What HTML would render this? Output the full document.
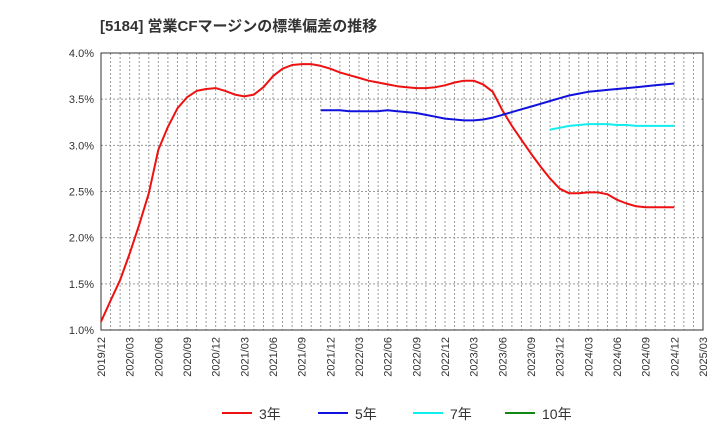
<!DOCTYPE html>
<html><head><meta charset="utf-8">
<style>
body{margin:0;background:#fff;font-family:"Liberation Sans","Noto Sans CJK JP",sans-serif;}
svg text{font-family:"Liberation Sans","Noto Sans CJK JP",sans-serif;}
</style></head>
<body>
<svg id="chart" width="720" height="440" xmlns="http://www.w3.org/2000/svg">
<text x="100" y="31" font-size="15" font-weight="bold" fill="#333">[5184]  営業CFマージンの標準偏差の推移</text>
<g id="grid"></g>
<g id="axes"></g>
<g id="series"></g>
<g id="legend"></g>
</svg>
<script>
const xTickLabels=["2019/12","2020/03","2020/06","2020/09","2020/12","2021/03","2021/06","2021/09","2021/12","2022/03","2022/06","2022/09","2022/12","2023/03","2023/06","2023/09","2023/12","2024/03","2024/06","2024/09","2024/12","2025/03"];
const yTicks=[1.0,1.5,2.0,2.5,3.0,3.5,4.0];
const red=[1.09,1.32,1.54,1.83,2.14,2.48,2.95,3.20,3.40,3.52,3.59,3.61,3.62,3.59,3.55,3.53,3.55,3.63,3.75,3.83,3.87,3.88,3.88,3.86,3.83,3.79,3.76,3.73,3.70,3.68,3.66,3.64,3.63,3.62,3.62,3.63,3.65,3.68,3.70,3.70,3.66,3.58,3.38,3.21,3.06,2.91,2.77,2.64,2.53,2.48,2.48,2.49,2.49,2.47,2.41,2.37,2.34,2.33,2.33,2.33,2.33];
const redStart=0;
const blue=[3.38,3.38,3.38,3.37,3.37,3.37,3.37,3.38,3.37,3.36,3.35,3.33,3.31,3.29,3.28,3.27,3.27,3.28,3.30,3.33,3.36,3.39,3.42,3.45,3.48,3.51,3.54,3.56,3.58,3.59,3.60,3.61,3.62,3.63,3.64,3.65,3.66,3.67];
const blueStart=23;
const cyan=[3.17,3.19,3.21,3.22,3.23,3.23,3.23,3.22,3.22,3.21,3.21,3.21,3.21,3.21];
const cyanStart=47;
const legendLabels=["3年","5年","7年","10年"];
const legendColors=["#ee1111","#1111dd","#11eeee","#118811"];

const L=101,R=703,T=53,B=330,NM=63;
const xS=i=>L+(R-L)*i/NM;
const yS=v=>B-(v-1)*(B-T)/3;
const NS="http://www.w3.org/2000/svg";
function mk(tag,parent,attrs){const e=document.createElementNS(NS,tag);for(const k in attrs)e.setAttribute(k,attrs[k]);document.getElementById(parent).appendChild(e);return e;}
for(let m=1;m<NM;m++){
 const g=mk("line","grid",{x1:xS(m),x2:xS(m),y1:T,y2:B,stroke:"#999","stroke-dasharray":"2,2","stroke-width":1});
 
 
}
yTicks.forEach(v=>{
 const g=mk("line","grid",{x1:L,x2:R,y1:yS(v),y2:yS(v),stroke:"#999","stroke-dasharray":"2,2","stroke-width":1});
 
 
 const t=mk("text","axes",{x:L-7,y:yS(v)+4,"text-anchor":"end","font-size":11,fill:"#333"});
 t.textContent=v.toFixed(1)+"%";
 
 
});
const fr=mk("rect","axes",{x:L,y:T,width:R-L,height:B-T,fill:"none",stroke:"#333","stroke-width":1});


xTickLabels.forEach((s,i)=>{
 const x=xS(i*3);
 const t=mk("text","axes",{x:0,y:0,transform:`translate(${x+4},${B+7}) rotate(-90)`,"text-anchor":"end","font-size":11,fill:"#333"});
 t.textContent=s;
 
 
});
function line(data,start,color,name){
 const d=data.map((v,i)=>(i?"L":"M")+xS(start+i).toFixed(1)+","+yS(v).toFixed(1)).join("");
 const p=mk("path","series",{d:d,fill:"none",stroke:color,"stroke-width":2,"stroke-linejoin":"round"});
 
 
}
line(red,redStart,legendColors[0],"series-3y");
line(blue,blueStart,legendColors[1],"series-5y");
line(cyan,cyanStart,legendColors[2],"series-7y");
const lx=[222,318,413,505];
legendLabels.forEach((s,i)=>{
 const l=mk("line","legend",{x1:lx[i],x2:lx[i]+30,y1:413,y2:413,stroke:legendColors[i],"stroke-width":2});
 
 
 const t=mk("text","legend",{x:lx[i]+37,y:419,"font-size":14,fill:"#333"});
 t.textContent=s;
 
 
});
</script>
</body></html>
